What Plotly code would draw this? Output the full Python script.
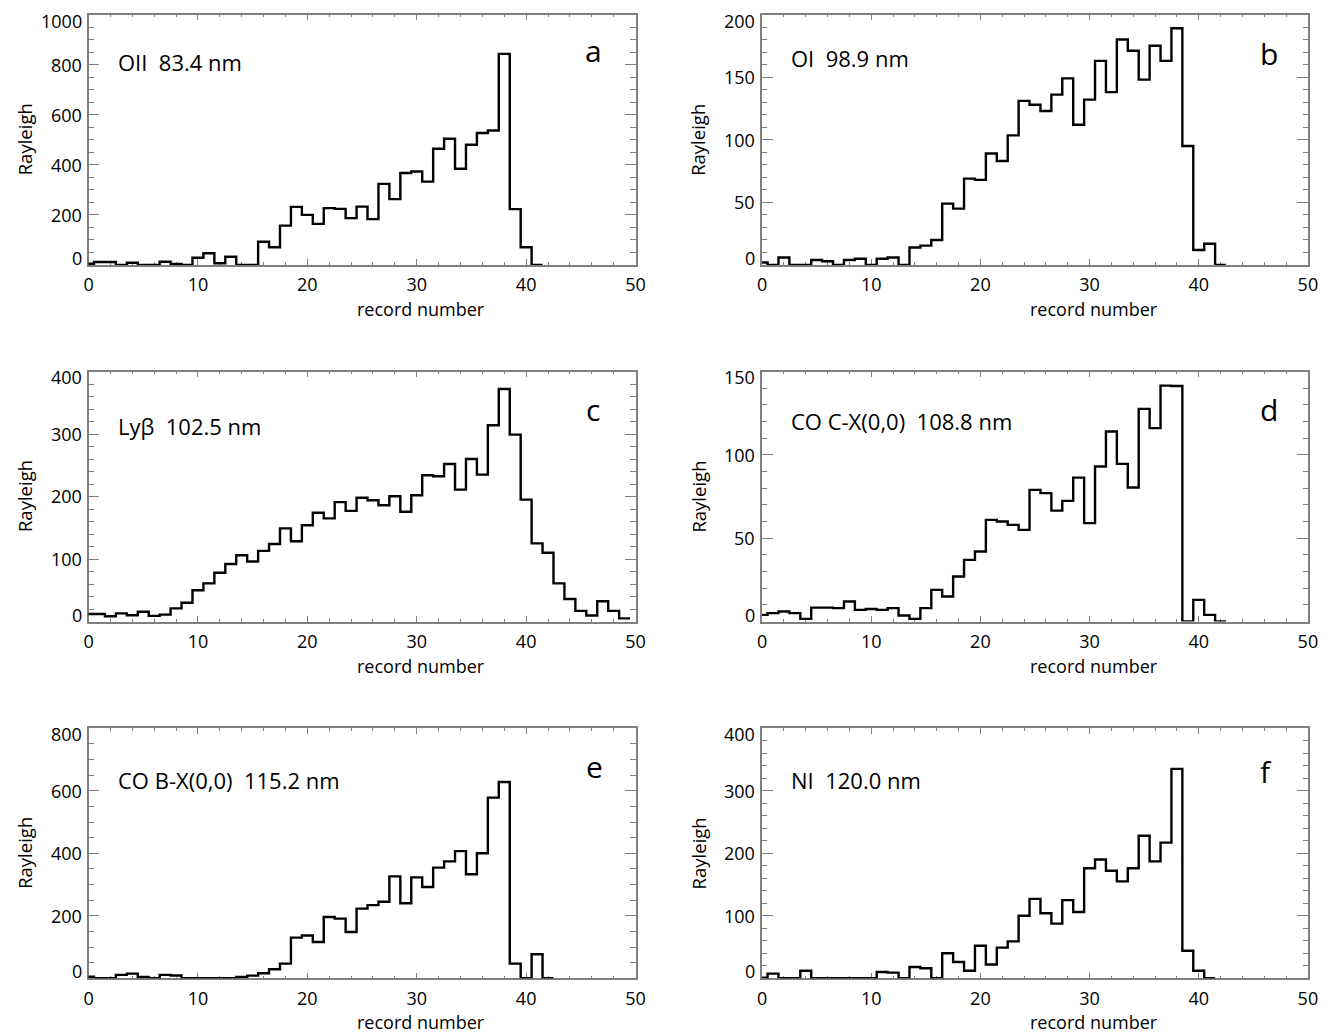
import numpy as np
import plotly.graph_objects as go
from plotly.subplots import make_subplots

# ---------------- data (Rayleigh per record number) ----------------
oii_834 = [5, 12, 12, 0, 9, 0, 0, 13, 4, 0,
           29, 47, 7, 33, 0, 0, 93, 71, 157, 232,
           200, 164, 227, 224, 187, 233, 183, 324, 263, 367,
           373, 333, 464, 504, 384, 480, 527, 537, 843, 223,
           71, 0]
oi_989 = [2, 0, 6, 0, 0, 4, 3, 0, 4, 5,
          0, 5, 6, 0, 14, 15.5, 20, 49, 45, 69,
          68, 89, 83, 103.5, 131, 128, 123, 136, 149, 112,
          132, 163, 138, 180, 171, 148, 175, 163, 189, 95,
          12, 17, 0]
lyb_1025 = [12, 12, 8.5, 13, 10, 15.5, 9, 11, 21, 30,
            50, 61, 78, 92, 106, 96, 113, 124, 149, 128.5,
            154, 174, 165, 191, 177, 198, 194, 186, 200.5, 175.5,
            202, 234, 232.5, 252, 211, 260, 235, 314, 372, 299,
            195, 125, 110, 61, 36, 17, 9.6, 32.5, 17, 5]
co_cx_1088 = [4, 5, 6, 5, 1.6, 8.3, 8.3, 8, 12, 7,
              7.5, 7, 8, 3.6, 1.6, 8, 19, 15, 27, 37,
              42, 61, 60, 58, 55, 79, 77, 66.5, 72.4, 86.3,
              59, 93, 114, 94.6, 80.4, 127.6, 116, 141.5, 141.3, 0,
              13, 4, 0]
co_bx_1152 = [5, 0, 0, 11, 15, 4, 0, 11, 9, 0,
              0, 0, 0, 0, 4, 8.5, 16, 29, 47, 130,
              137, 116, 196, 191, 148, 223, 234, 245, 326, 240,
              323, 292, 354, 374, 407, 333, 400, 578, 628, 47,
              0, 77, 0]
ni_1200 = [1, 7.5, 0, 0, 12, 0, 0, 0, 0, 0,
           0, 10, 9, 0, 18, 16, 0, 40, 26, 12,
           52, 22, 49, 59, 100, 127, 104, 87.5, 125, 106,
           176, 190, 172, 155, 176, 228, 187, 217, 335, 44,
           12, 0]

series = [oii_834, oi_989, lyb_1025, co_cx_1088, co_bx_1152, ni_1200]
line_labels = ["OII\u00a0\u00a083.4 nm", "OI\u00a0\u00a098.9 nm", "Ly\u03b2\u00a0\u00a0102.5 nm",
               "CO C-X(0,0)\u00a0\u00a0108.8 nm", "CO B-X(0,0)\u00a0\u00a0115.2 nm", "NI\u00a0\u00a0120.0 nm"]
panel_letters = ["a", "b", "c", "d", "e", "f"]
y_ranges = [[0, 1000], [0, 200], [0, 400], [0, 150], [0, 800], [0, 400]]
y_ticks = [[0, 200, 400, 600, 800, 1000], [0, 50, 100, 150, 200], [0, 100, 200, 300, 400],
           [0, 50, 100, 150], [0, 200, 400, 600, 800], [0, 100, 200, 300, 400]]
y_minor = [50, 10, 20, 10, 50, 20]
x_ticks = [0, 10, 20, 30, 40, 50]
x_title = "record number"
y_title = "Rayleigh"

# ---------------- layout geometry ----------------
W, H = 1335, 1035
col_px = [(84.5, 637.7), (765.7, 1317.7)]
row_px = [(14.5, 265.0), (371.5, 621.5), (728.3, 978.3)]

fig = make_subplots(rows=3, cols=2)

AX = "#7f7f7f"
FONT = "Open Sans"

annotations = []
for i, vals in enumerate(series):
    r, c = i // 2, i % 2
    rec = np.arange(len(vals))
    xe = np.append(rec - 0.5, rec[-1] + 0.5)
    ye = np.append(np.array(vals, dtype=float), vals[-1])
    fig.add_trace(go.Scatter(x=xe, y=ye, mode="lines", line=dict(color="black", width=2.4, shape="hv"),
                             showlegend=False, hoverinfo="skip"), row=r + 1, col=c + 1)

    sfx = "" if i == 0 else str(i + 1)
    x0, x1 = col_px[c]
    t, b = row_px[r]
    fig.layout["xaxis" + sfx].update(
        domain=[x0 / W, x1 / W], range=[0, 50], tickvals=x_ticks, ticktext=[str(v) for v in x_ticks],
        showgrid=False, zeroline=False, showline=True, linecolor=AX, linewidth=1.5, mirror="ticks",
        ticks="inside", ticklen=6, tickwidth=1.2, tickcolor=AX, layer="below traces",
        minor=dict(ticks="inside", dtick=2, ticklen=3, tickwidth=1, tickcolor=AX, showgrid=False),
        tickfont=dict(family=FONT, size=18, color="black"), ticklabelstandoff=3)
    fig.layout["yaxis" + sfx].update(
        domain=[1 - b / H, 1 - t / H], range=y_ranges[i], tickvals=y_ticks[i], showticklabels=False,
        showgrid=False, zeroline=False, showline=True, linecolor=AX, linewidth=1.5, mirror="ticks",
        ticks="inside", ticklen=11, tickwidth=1.2, tickcolor=AX, layer="below traces",
        minor=dict(ticks="inside", dtick=y_minor[i], ticklen=5.5, tickwidth=1, tickcolor=AX, showgrid=False))

    xd, yd = "x" + sfx + " domain", "y" + sfx + " domain"
    yr = "y" + sfx
    # y tick labels (end labels nudged inward as in the original)
    for k, v in enumerate(y_ticks[i]):
        shift = 0
        if k == 0:
            shift = 7
        elif k == len(y_ticks[i]) - 1:
            shift = -6
        annotations.append(dict(x=0, xref=xd, y=v, yref=yr, text=str(v), showarrow=False,
                                xanchor="right", yanchor="middle", xshift=-5, yshift=shift,
                                font=dict(family=FONT, size=18, color="black")))
    # axis titles
    annotations.append(dict(x=0.608, xref=xd, y=0, yref=yd, text=x_title, showarrow=False,
                            xanchor="center", yanchor="middle", yshift=-44,
                            font=dict(family=FONT, size=18, color="black")))
    annotations.append(dict(x=0, xref=xd, y=0.5, yref=yd, text=y_title, showarrow=False, textangle=-90,
                            xanchor="center", yanchor="middle", xshift=-64,
                            font=dict(family=FONT, size=18.5, color="black")))
    # line label and panel letter
    lab_y = [61.5, 58, 426.5, 421.5, 780, 780][i]
    annotations.append(dict(x=0.05, xref=xd, y=(b - lab_y) / (b - t), yref=yd, text=line_labels[i],
                            showarrow=False, xanchor="left", yanchor="middle",
                            font=dict(family=FONT, size=22, color="black")))
    let_x = [595, 1278, 595, 1278, 596, 1275][i]
    let_y = [50, 53, 410, 410, 766, 771][i]
    annotations.append(dict(x=(let_x - x0) / (x1 - x0), xref=xd, y=(b - let_y) / (b - t), yref=yd,
                            text=panel_letters[i], showarrow=False, xanchor="center", yanchor="middle",
                            font=dict(family=FONT, size=30, color="black")))

fig.update_layout(width=W, height=H, margin=dict(l=0, r=0, t=0, b=0), paper_bgcolor="white",
                  plot_bgcolor="white", annotations=annotations, showlegend=False)

fig.write_html("out.html")
